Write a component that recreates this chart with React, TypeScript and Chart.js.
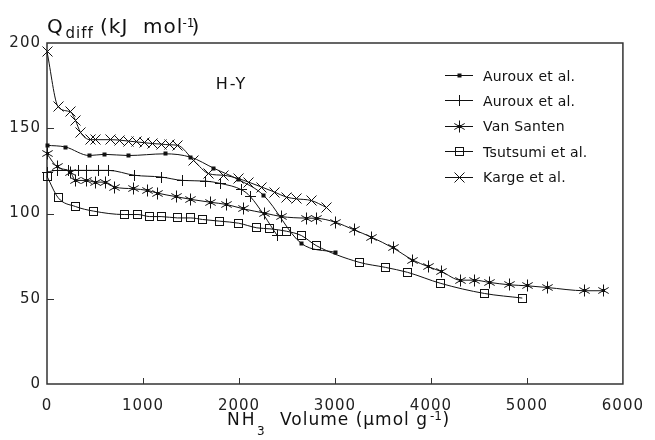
import React, { useEffect, useRef } from 'react';
import { Chart, registerables } from 'chart.js';

Chart.register(...registerables);

const FONT = '"DejaVu Sans", "Liberation Sans", sans-serif';
const INK = '#111';

// ---- data ----
const seriesNames = ['Auroux et al.', 'Auroux et al.', 'Van Santen', 'Tsutsumi et al.', 'Karge et al.'];

const aurouxDotX = [0, 192, 440, 598, 845, 1230, 1498, 1739, 1997, 2254, 2649, 3003];
const aurouxDotY = [140, 139, 134, 134.7, 134, 135, 133, 126.5, 119.8, 110.8, 82.5, 77.2];

const aurouxPlusX = [0, 106, 227, 330, 416, 536, 639, 914, 1189, 1412, 1653, 1808, 2031, 2117, 2400];
const aurouxPlusY = [124.3, 125.3, 125.3, 125.3, 125.3, 125.3, 125.3, 122.4, 121.4, 119.4, 119, 117.6, 113.8, 110, 87];

const vanSantenX = [0, 106, 244, 296, 416, 502, 605, 708, 897, 1052, 1148, 1352, 1498, 1700, 1869, 2048, 2271, 2443, 2701, 2808, 3003, 3199, 3381, 3605, 3811, 3973, 4110, 4309, 4454, 4608, 4814, 5003, 5210, 5605, 5801];
const vanSantenY = [135, 127.3, 124.3, 119.4, 119.4, 118.4, 118.4, 115.5, 114.5, 113.5, 112, 109.8, 108.3, 106.6, 105.3, 102.7, 100.2, 98.2, 97.3, 97.2, 94.9, 90.4, 86.1, 79.8, 72.7, 68.8, 65.9, 60.9, 60.9, 59.6, 58.2, 57.6, 56.6, 54.7, 54.7];

const tsutsumiX = [0, 117, 296, 485, 804, 948, 1069, 1189, 1361, 1498, 1619, 1801, 1997, 2186, 2323, 2495, 2649, 2804, 3251, 3526, 3756, 4103, 4557, 4952];
const tsutsumiY = [121.8, 109.2, 104.1, 101.4, 99.4, 99.4, 98.2, 98.2, 97.4, 97.4, 96.5, 95.5, 94.3, 91.6, 91, 89.6, 87.1, 81.2, 71.4, 68.4, 65.5, 59, 53.1, 50.4];

const kargeX = [0, 117, 244, 296, 347, 450, 502, 657, 760, 845, 931, 1018, 1103, 1189, 1275, 1361, 1530, 1687, 1842, 1997, 2100, 2237, 2374, 2495, 2598, 2753, 2907];
const kargeY = [195, 162.5, 159.6, 154.7, 147.8, 143.3, 143.3, 143.3, 143, 142.5, 142, 141.5, 141, 140.7, 140.3, 140, 131, 123.3, 122.4, 120.4, 118.4, 115.5, 112.5, 109.6, 108.6, 107.6, 103.7];

const xMin = 0;
const xMax = 6000;
const xStep = 1000;
const yMin = 0;
const yMax = 200;
const yStep = 50;

const panelLabel = 'H-Y';

// ---- markers ----
function makeMarker(kind: string): HTMLCanvasElement {
  const s = 15;
  const c = document.createElement('canvas');
  c.width = s;
  c.height = s;
  const g = c.getContext('2d')!;
  g.strokeStyle = INK;
  g.fillStyle = INK;
  g.lineWidth = 1;
  const m = s / 2;
  g.beginPath();
  if (kind === 'dot') {
    g.fillRect(m - 2, m - 2, 4, 4);
  } else if (kind === 'plus') {
    g.moveTo(m, m - 5.5);
    g.lineTo(m, m + 5.5);
    g.moveTo(m - 5.5, m);
    g.lineTo(m + 5.5, m);
    g.stroke();
  } else if (kind === 'aster') {
    const r = 6;
    [90, 30, 150].forEach((deg) => {
      const a = (deg * Math.PI) / 180;
      g.moveTo(m - r * Math.cos(a), m - r * Math.sin(a));
      g.lineTo(m + r * Math.cos(a), m + r * Math.sin(a));
    });
    g.stroke();
    g.fillRect(m - 1.5, m - 1.5, 3, 3);
  } else if (kind === 'square') {
    g.strokeRect(3.5, 3.5, 8, 8);
  } else if (kind === 'x') {
    const r = 5;
    g.moveTo(m - r, m - r);
    g.lineTo(m + r, m + r);
    g.moveTo(m - r, m + r);
    g.lineTo(m + r, m - r);
    g.stroke();
  }
  return c;
}

const pts = (xs: number[], ys: number[]) => xs.map((x, i) => ({ x, y: ys[i] }));

function drawSeg(ctx: CanvasRenderingContext2D, text: string, x: number, y: number, size: number, spacing = '1px', align: CanvasTextAlign = 'left') {
  (ctx as any).letterSpacing = spacing;
  ctx.font = `${size}px ${FONT}`;
  ctx.textAlign = align;
  ctx.textBaseline = 'alphabetic';
  ctx.fillText(text, x, y);
}

export default function App() {
  const ref = useRef<HTMLCanvasElement>(null);

  useEffect(() => {
    const canvas = ref.current!;
    const markers = [makeMarker('dot'), makeMarker('plus'), makeMarker('aster'), makeMarker('square'), makeMarker('x')];
    const series = [
      pts(aurouxDotX, aurouxDotY),
      pts(aurouxPlusX, aurouxPlusY),
      pts(vanSantenX, vanSantenY),
      pts(tsutsumiX, tsutsumiY),
      pts(kargeX, kargeY),
    ];

    const framePlugin = {
      id: 'frameAndText',
      beforeDraw(chart: any) {
        chart.ctx.letterSpacing = '1px';
        chart.ctx.imageSmoothingEnabled = false;
      },
      beforeDatasetsDraw(chart: any) {
        const ctx = chart.ctx as CanvasRenderingContext2D;
        const { left, right, top, bottom } = chart.chartArea;
        ctx.save();
        ctx.strokeStyle = '#333';
        ctx.lineWidth = 1.5;
        ctx.strokeRect(left, top, right - left, bottom - top);
        ctx.lineWidth = 1;
        ctx.beginPath();
        chart.scales.x.ticks.forEach((t: any) => {
          if (t.value === xMin || t.value === xMax) return;
          const px = Math.round(chart.scales.x.getPixelForValue(t.value)) + 0.5;
          ctx.moveTo(px, bottom);
          ctx.lineTo(px, bottom - 6);
        });
        chart.scales.y.ticks.forEach((t: any) => {
          if (t.value === yMin || t.value === yMax) return;
          const py = Math.round(chart.scales.y.getPixelForValue(t.value)) + 0.5;
          ctx.moveTo(left, py);
          ctx.lineTo(left + 7, py);
        });
        ctx.stroke();
        ctx.restore();
      },
      afterDraw(chart: any) {
        const ctx = chart.ctx as CanvasRenderingContext2D;
        ctx.save();
        ctx.fillStyle = INK;
        ctx.strokeStyle = INK;

        // y-axis title: Q_diff (kJ mol^-1)
        drawSeg(ctx, 'Q', 47, 33, 20);
        drawSeg(ctx, 'diff', 65.5, 37.5, 15);
        drawSeg(ctx, '(kJ', 100, 33, 20);
        drawSeg(ctx, 'mol', 143, 33, 20);
        drawSeg(ctx, '-1', 182.5, 26.5, 12, '0px');
        drawSeg(ctx, ')', 191.5, 33, 20);

        // x-axis title: NH3 Volume (µmol g^-1)
        drawSeg(ctx, 'NH', 227, 424.5, 17, '2px');
        drawSeg(ctx, '3', 257, 435, 12);
        drawSeg(ctx, 'Volume (µmol g', 280, 424.5, 17);
        drawSeg(ctx, '-1', 430, 419.5, 12, '0px');
        drawSeg(ctx, ')', 442.5, 424.5, 17);

        // panel label
        drawSeg(ctx, panelLabel, 231.5, 89, 16, '2px', 'center');

        // legend
        ctx.lineWidth = 1;
        chart.data.datasets.forEach((ds: any, i: number) => {
          const y = 75 + i * 25.4;
          const yy = Math.round(y) + 0.5;
          ctx.beginPath();
          ctx.moveTo(445, yy);
          ctx.lineTo(473, yy);
          ctx.stroke();
          const mk = markers[i];
          ctx.drawImage(mk, 459 - mk.width / 2 + 0.5, yy - mk.height / 2);
          drawSeg(ctx, ds.label, 483, y + 5.5, 14, '0.2px');
        });
        (ctx as any).letterSpacing = '0px';
        ctx.restore();
      },
    };

    const chart = new Chart(canvas, {
      type: 'line',
      data: {
        datasets: series.map((data, i) => ({
          label: seriesNames[i],
          data,
          borderColor: INK,
          borderWidth: 1,
          backgroundColor: 'rgba(0,0,0,0)',
          pointStyle: markers[i] as any,
          pointRadius: 5,
          pointHoverRadius: 5,
          cubicInterpolationMode: 'monotone',
          fill: false,
          clip: false as any,
        })),
      },
      options: {
        animation: false,
        responsive: false,
        devicePixelRatio: 1,
        events: [],
        layout: { padding: { left: 7, right: 23, top: 43, bottom: 26 } },
        plugins: { legend: { display: false }, tooltip: { enabled: false } },
        scales: {
          x: {
            type: 'linear',
            min: xMin,
            max: xMax,
            ticks: {
              stepSize: xStep,
              font: { family: FONT, size: 15 },
              color: '#222',
              padding: 13,
              maxRotation: 0,
              autoSkip: false,
              callback: (v: any) => String(v),
            },
            grid: { display: false, drawTicks: false },
            border: { display: false },
            afterFit: (s: any) => {
              s.height = 30;
            },
          },
          y: {
            type: 'linear',
            min: yMin,
            max: yMax,
            ticks: {
              stepSize: yStep,
              font: { family: FONT, size: 15 },
              color: '#222',
              padding: 6,
              callback: (v: any) => String(v),
            },
            grid: { display: false, drawTicks: false },
            border: { display: false },
            afterFit: (s: any) => {
              s.width = 40;
            },
          },
        },
      },
      plugins: [framePlugin],
    });
    return () => chart.destroy();
  }, []);

  return (
    <div style={{ position: 'absolute', left: 0, top: 0, width: 655, height: 440, background: '#fff' }}>
      <canvas ref={ref} width={655} height={440} style={{ display: 'block' }} />
    </div>
  );
}
